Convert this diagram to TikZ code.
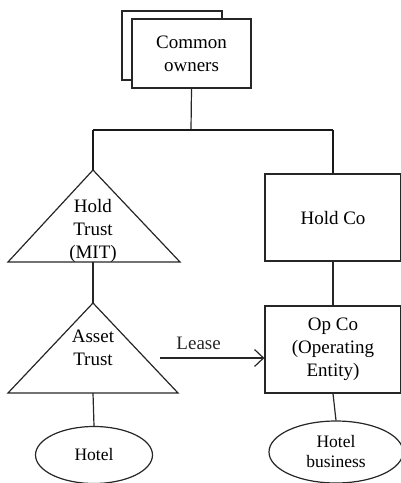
\documentclass[tikz,border=0pt]{standalone}
\usepackage{fontspec}
\setmainfont{Liberation Serif}
\usetikzlibrary{positioning,shapes.geometric,arrows.meta}

\begin{document}
\begin{tikzpicture}[x=1pt,y=-1pt,line width=1.2pt,
  txt/.style={align=center,inner sep=0pt,font=\fontsize{19}{23}\selectfont},
  box/.style={rectangle,draw=black!85,fill=white,txt},
  oval/.style={ellipse,draw=black!85,fill=white,inner sep=0pt,align=center,font=\fontsize{17.5}{20}\selectfont},
  bus/.style={draw=black!90,line width=2.6pt}]
  \useasboundingbox (0,0) rectangle (401,483);
  % owners on top, with a second sheet behind
  \node [box,minimum width=100pt,minimum height=69pt] (ownersback) at (172,45.5) {};
  \node [box,minimum width=119pt,minimum height=69pt] (owners) at (191.5,53.5) {Common\\owners};
  \coordinate (barM) at (191,130);
  \coordinate (barL) at (93,130);
  \coordinate (barR) at (333,130);
  % the two trusts
  \coordinate (holdtop) at (93,170);
  \coordinate (holdbase) at (93,262);
  \draw [black!85] (holdtop) -- (8,262) -- (180,262) -- cycle;
  \node [txt] (holdtrust) at (93,231) {Hold\\Trust\\(MIT)};
  \coordinate (assettop) at (93,303);
  \coordinate (assetbase) at (93,393);
  \draw [black!85] (assettop) -- (8,393) -- (178,393) -- cycle;
  \node [txt] (assettrust) at (93,348) {Asset\\Trust};
  % companies
  \node [box,minimum width=136pt,minimum height=87pt] (holdco) at (333,217.5) {Hold Co};
  \node [box,minimum width=136pt,minimum height=87pt] (opco) at (333,349.5) {Op Co\\(Operating\\Entity)};
  \node [oval,minimum width=117pt,minimum height=57pt] (hotel) at (94,455) {Hotel};
  \node [oval,minimum width=134pt,minimum height=62pt] (hotelbiz) at (336,452) {Hotel\\business};
  % links
  \draw [black!85] (owners.south) -- (barM);
  \path [bus] (barL) -- (barR);
  \path [bus] (barL) -- (holdtop);
  \path [bus] (barR) -- (holdco.north);
  \draw [black!85] (holdbase) -- (assettop);
  \draw [black!85] (holdco.south) -- (opco.north);
  \draw [black!85] (assetbase) -- (hotel.north);
  \draw [black!85] (opco.south) -- (hotelbiz.north);
  \coordinate (leasefrom) at (160,358);
  \draw [black!85,-{Straight Barb[length=9pt,width=17pt]}] (leasefrom) -- (opco.west|-leasefrom)
    node [txt,pos=0.37,above=8pt] (lease) {Lease};
\end{tikzpicture}
\end{document}
